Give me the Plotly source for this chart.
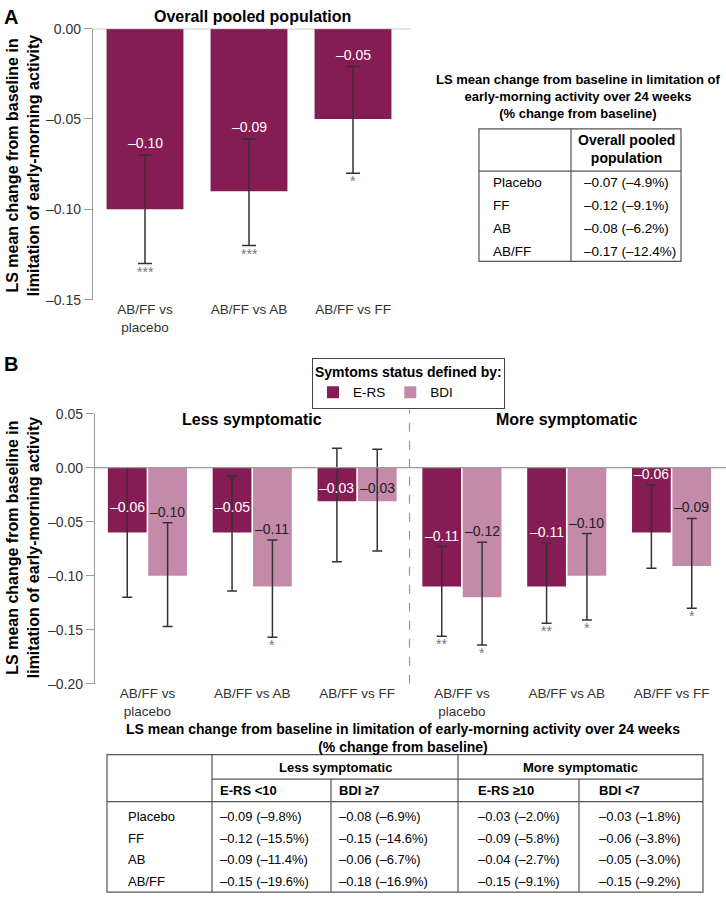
import plotly.graph_objects as go

W, H = 726, 903


def px(x):
    return x / W


def py(y):
    return 1 - y / H


FONT = "Liberation Sans, Arial, sans-serif"
DARK = "#851C54"
LIGHT = "#C38AAA"
AXIS = "#9a9a9a"

# ---------------- data ----------------
comparisons = ["AB/FF vs<br>placebo", "AB/FF vs AB", "AB/FF vs FF"]

# Panel A – overall pooled population
a_values = [-0.10, -0.09, -0.05]
a_ci_low = [-0.130, -0.120, -0.080]
a_ci_high = [-0.070, -0.061, -0.021]
a_labels = ["–0.10", "–0.09", "–0.05"]
a_stars = ["***", "***", "*"]

# Panel B – less / more symptomatic
b_groups = ["Less symptomatic", "More symptomatic"]
b_x_labels = comparisons * 2
ers_values = [-0.06, -0.06, -0.031, -0.11, -0.11, -0.06]
ers_ci_low = [-0.120, -0.114, -0.087, -0.156, -0.144, -0.093]
ers_ci_high = [0.000, -0.008, 0.018, -0.073, -0.070, -0.016]
ers_labels = ["–0.06", "–0.05", "–0.03", "–0.11", "–0.11", "–0.06"]
ers_stars = ["", "", "", "**", "**", ""]
bdi_values = [-0.10, -0.11, -0.031, -0.12, -0.10, -0.091]
bdi_ci_low = [-0.147, -0.157, -0.077, -0.164, -0.141, -0.130]
bdi_ci_high = [-0.051, -0.067, 0.017, -0.069, -0.061, -0.047]
bdi_labels = ["–0.10", "–0.11", "–0.03", "–0.12", "–0.10", "–0.09"]
bdi_stars = ["", "*", "", "*", "*", "*"]

a_ticks = [0.00, -0.05, -0.10, -0.15]
b_ticks = [0.05, 0.00, -0.05, -0.10, -0.15, -0.20]

# Table A
tab_a_title = "LS mean change from baseline in limitation of<br>early-morning activity over 24 weeks<br>(% change from baseline)"
tab_a_header = "Overall pooled<br>population"
tab_rows = ["Placebo", "FF", "AB", "AB/FF"]
tab_a_values = ["–0.07 (–4.9%)", "–0.12 (–9.1%)", "–0.08 (–6.2%)", "–0.17 (–12.4%)"]

# Table B
tab_b_title = "LS mean change from baseline in limitation of early-morning activity over 24 weeks<br>(% change from baseline)"
tab_b_subheaders = ["E-RS <10", "BDI ≥7", "E-RS ≥10", "BDI <7"]
tab_b_values = [
    ["–0.09 (–9.8%)", "–0.12 (–15.5%)", "–0.09 (–11.4%)", "–0.15 (–19.6%)"],
    ["–0.08 (–6.9%)", "–0.15 (–14.6%)", "–0.06 (–6.7%)", "–0.18 (–16.9%)"],
    ["–0.03 (–2.0%)", "–0.09 (–5.8%)", "–0.04 (–2.7%)", "–0.15 (–9.1%)"],
    ["–0.03 (–1.8%)", "–0.06 (–3.8%)", "–0.05 (–3.0%)", "–0.15 (–9.2%)"],
]


def fmt_tick(v):
    s = f"{abs(v):.2f}"
    return ("–" + s) if v < 0 else s


BARGAP = 0.23
GROUPGAP = 0.04
slot = (1 - BARGAP) / 2

fig = go.Figure()

# ---------------- Panel A ----------------
xa = list(range(len(comparisons)))
fig.add_trace(go.Bar(
    x=xa, y=a_values, marker=dict(color=DARK, line=dict(width=0)),
    error_y=dict(type="data", symmetric=False,
                 array=[h - v for h, v in zip(a_ci_high, a_values)],
                 arrayminus=[v - l for v, l in zip(a_values, a_ci_low)],
                 color="#333333", thickness=1.5, width=7),
    showlegend=False, xaxis="x", yaxis="y", hoverinfo="skip"))

# ---------------- Panel B ----------------
xb = list(range(len(b_x_labels)))
fig.add_trace(go.Bar(
    x=xb, y=ers_values, name="E-RS", marker=dict(color=DARK, line=dict(width=0)),
    error_y=dict(type="data", symmetric=False,
                 array=[h - v for h, v in zip(ers_ci_high, ers_values)],
                 arrayminus=[v - l for v, l in zip(ers_values, ers_ci_low)],
                 color="#333333", thickness=1.5, width=5),
    xaxis="x2", yaxis="y2", hoverinfo="skip"))
fig.add_trace(go.Bar(
    x=xb, y=bdi_values, name="BDI", marker=dict(color=LIGHT, line=dict(width=0)),
    error_y=dict(type="data", symmetric=False,
                 array=[h - v for h, v in zip(bdi_ci_high, bdi_values)],
                 arrayminus=[v - l for v, l in zip(bdi_values, bdi_ci_low)],
                 color="#333333", thickness=1.5, width=5),
    xaxis="x2", yaxis="y2", hoverinfo="skip"))

ann = []
shapes = []

# value labels and stars, panel A
for i, (lab, hi, lo, st) in enumerate(zip(a_labels, a_ci_high, a_ci_low, a_stars)):
    ann.append(dict(x=i, y=hi, xref="x", yref="y", text=lab, showarrow=False,
                    yanchor="bottom", yshift=2, font=dict(family=FONT, size=14, color="white")))
    if st:
        ann.append(dict(x=i, y=lo, xref="x", yref="y", text=st, showarrow=False,
                        yanchor="top", yshift=2, font=dict(family=FONT, size=14, color="#777777")))

# value labels and stars, panel B
for series, off, col in [
    ((ers_values, ers_ci_low, ers_ci_high, ers_labels, ers_stars), -slot / 2, "white"),
    ((bdi_values, bdi_ci_low, bdi_ci_high, bdi_labels, bdi_stars), slot / 2, "#222222"),
]:
    vals, lows, highs, labs, stars = series
    for i, (v, lo, hi, lab, st) in enumerate(zip(vals, lows, highs, labs, stars)):
        if hi > -0.012:
            ann.append(dict(x=i + off, y=v * 0.6, xref="x2", yref="y2", text=lab, showarrow=False,
                            yanchor="middle", font=dict(family=FONT, size=14, color=col)))
        else:
            ann.append(dict(x=i + off, y=hi, xref="x2", yref="y2", text=lab, showarrow=False,
                            yanchor="bottom", yshift=1, font=dict(family=FONT, size=14, color=col)))
        if st:
            ann.append(dict(x=i + off, y=lo, xref="x2", yref="y2", text=st, showarrow=False,
                            yanchor="top", yshift=2, font=dict(family=FONT, size=14, color="#777777")))

# panel letters & titles
ann.append(dict(x=px(2), y=py(9), xref="paper", yref="paper", text="<b>A</b>", showarrow=False,
                xanchor="left", yanchor="middle", font=dict(family=FONT, size=20, color="black")))
ann.append(dict(x=px(2), y=py(362), xref="paper", yref="paper", text="<b>B</b>", showarrow=False,
                xanchor="left", yanchor="middle", font=dict(family=FONT, size=20, color="black")))
ann.append(dict(x=px(252), y=py(9), xref="paper", yref="paper", text="<b>Overall pooled population</b>",
                showarrow=False, xanchor="center", yanchor="middle", font=dict(family=FONT, size=16, color="black")))
ytitle = "<b>LS mean change from baseline in<br>limitation of early-morning activity</b>"
ann.append(dict(x=px(23), y=py(161), xref="paper", yref="paper", text=ytitle, textangle=-90,
                showarrow=False, xanchor="center", yanchor="middle",
                font=dict(family=FONT, size=16, color="black")))
ann.append(dict(x=px(23), y=py(550), xref="paper", yref="paper", text=ytitle, textangle=-90,
                showarrow=False, xanchor="center", yanchor="middle",
                font=dict(family=FONT, size=16, color="black")))
for gi, g in enumerate(b_groups):
    ann.append(dict(x=1 + 3 * gi, y=py(419), xref="x2", yref="paper", text=f"<b>{g}</b>",
                    showarrow=False, xanchor="center", yanchor="middle",
                    font=dict(family=FONT, size=16, color="black")))

# zero lines and divider
shapes.append(dict(type="line", xref="paper", yref="y", x0=px(93), x1=px(411), y0=0, y1=0,
                   line=dict(color=AXIS, width=1.2)))
shapes.append(dict(type="line", xref="paper", yref="y2", x0=px(95), x1=1, y0=0, y1=0,
                   line=dict(color=AXIS, width=1.2)))
shapes.append(dict(type="line", xref="x2", yref="paper", x0=2.5, x1=2.5, y0=py(688), y1=py(409),
                   line=dict(color="#999999", width=1.2, dash="dash")))

# ---------------- Table A ----------------
LINE = dict(color="#555555", width=1.2)
ann.append(dict(x=px(578), y=py(90), xref="paper", yref="paper", text=f"<b>{tab_a_title}</b>",
                showarrow=False, xanchor="center", yanchor="middle",
                font=dict(family=FONT, size=13, color="black")))
shapes.append(dict(type="rect", xref="paper", yref="paper", x0=px(479), x1=px(681), y0=py(258), y1=py(123), line=LINE))
shapes.append(dict(type="line", xref="paper", yref="paper", x0=px(571), x1=px(571), y0=py(258), y1=py(123), line=LINE))
shapes.append(dict(type="line", xref="paper", yref="paper", x0=px(479), x1=px(681), y0=py(166), y1=py(166), line=LINE))
ann.append(dict(x=px(626), y=py(144), xref="paper", yref="paper", text=f"<b>{tab_a_header}</b>",
                showarrow=False, xanchor="center", yanchor="middle",
                font=dict(family=FONT, size=14, color="black")))
for r, (lab, val) in enumerate(zip(tab_rows, tab_a_values)):
    yy = 178 + r * 23.3
    ann.append(dict(x=px(491), y=py(yy), xref="paper", yref="paper", text=lab, showarrow=False,
                    xanchor="left", yanchor="middle", font=dict(family=FONT, size=13.5, color="black")))
    ann.append(dict(x=px(582), y=py(yy), xref="paper", yref="paper", text=val, showarrow=False,
                    xanchor="left", yanchor="middle", font=dict(family=FONT, size=13.5, color="black")))

# ---------------- Table B ----------------
cols = [107, 212, 331, 458, 579, 703]
ann.append(dict(x=px(403), y=py(743), xref="paper", yref="paper", text=f"<b>{tab_b_title}</b>",
                showarrow=False, xanchor="center", yanchor="middle",
                font=dict(family=FONT, size=14, color="black")))
shapes.append(dict(type="rect", xref="paper", yref="paper", x0=px(cols[0]), x1=px(cols[-1]), y0=py(900), y1=py(760), line=LINE))
shapes.append(dict(type="line", xref="paper", yref="paper", x0=px(cols[1]), x1=px(cols[1]), y0=py(900), y1=py(760), line=LINE))
shapes.append(dict(type="line", xref="paper", yref="paper", x0=px(cols[3]), x1=px(cols[3]), y0=py(900), y1=py(760), line=LINE))
shapes.append(dict(type="line", xref="paper", yref="paper", x0=px(cols[2]), x1=px(cols[2]), y0=py(900), y1=py(785), line=LINE))
shapes.append(dict(type="line", xref="paper", yref="paper", x0=px(cols[4]), x1=px(cols[4]), y0=py(900), y1=py(785), line=LINE))
shapes.append(dict(type="line", xref="paper", yref="paper", x0=px(cols[1]), x1=px(cols[-1]), y0=py(785), y1=py(785), line=LINE))
shapes.append(dict(type="line", xref="paper", yref="paper", x0=px(cols[0]), x1=px(cols[-1]), y0=py(808), y1=py(808), line=LINE))
for gi, g in enumerate(b_groups):
    cx = (cols[1 + 2 * gi] + cols[3 + 2 * gi]) / 2
    ann.append(dict(x=px(cx), y=py(773), xref="paper", yref="paper", text=f"<b>{g}</b>", showarrow=False,
                    xanchor="center", yanchor="middle", font=dict(family=FONT, size=13, color="black")))
pads = [6, 6, 18, 18]
for c, (sh, pad) in enumerate(zip(tab_b_subheaders, pads)):
    ann.append(dict(x=px(cols[1 + c] + pad), y=py(797), xref="paper", yref="paper", text=f"<b>{sh}</b>",
                    showarrow=False, xanchor="left", yanchor="middle",
                    font=dict(family=FONT, size=13, color="black")))
for r, lab in enumerate(tab_rows):
    yy = 823 + r * 22
    ann.append(dict(x=px(126), y=py(yy), xref="paper", yref="paper", text=lab, showarrow=False,
                    xanchor="left", yanchor="middle", font=dict(family=FONT, size=13, color="black")))
    for c, pad in enumerate(pads):
        ann.append(dict(x=px(cols[1 + c] + pad), y=py(yy), xref="paper", yref="paper",
                        text=tab_b_values[c][r], showarrow=False, xanchor="left", yanchor="middle",
                        font=dict(family=FONT, size=13, color="black")))

yaxis_common = dict(showline=True, linecolor=AXIS, linewidth=1.2, ticks="outside", ticklen=8,
                    tickcolor=AXIS, tickwidth=1.2, showgrid=False, zeroline=False, fixedrange=True)

fig.update_layout(
    width=W, height=H, margin=dict(l=0, r=0, t=0, b=0),
    paper_bgcolor="white", plot_bgcolor="white",
    barmode="group", bargap=BARGAP, bargroupgap=GROUPGAP,
    font=dict(family=FONT, color="#333333"),
    xaxis=dict(domain=[px(93), px(405)], range=[-0.5, 2.5], tickvals=xa, ticktext=comparisons,
               showline=False, ticks="", showgrid=False, zeroline=False, fixedrange=True,
               tickfont=dict(family=FONT, size=13.5, color="#333333"), anchor="y"),
    yaxis=dict(domain=[py(297), py(21)], range=[-0.15, 0], tickvals=a_ticks,
               ticktext=[fmt_tick(v) for v in a_ticks],
               tickfont=dict(family=FONT, size=14, color="#333333"), anchor="x", **yaxis_common),
    xaxis2=dict(domain=[px(95), px(724)], range=[-0.5, 5.5], tickvals=xb, ticktext=b_x_labels,
                showline=False, ticks="", showgrid=False, zeroline=False, fixedrange=True,
                tickfont=dict(family=FONT, size=13.5, color="#333333"), anchor="y2"),
    yaxis2=dict(domain=[py(688), py(413)], range=[-0.20, 0.05], tickvals=b_ticks,
                ticktext=[fmt_tick(v) for v in b_ticks],
                tickfont=dict(family=FONT, size=14, color="#333333"), anchor="x2", **yaxis_common),
    legend=dict(title=dict(text="<b>Symtoms status defined by:</b>", side="top",
                           font=dict(family=FONT, size=14, color="black")),
                orientation="h", x=px(312), y=py(356), xanchor="left", yanchor="top",
                bordercolor="#444444", borderwidth=1, bgcolor="white",
                font=dict(family=FONT, size=13.5, color="black"), itemwidth=30),
    annotations=ann, shapes=shapes,
)

fig.write_html("out.html", config={"displayModeBar": False},
               post_script="document.body.style.margin='0px';")
